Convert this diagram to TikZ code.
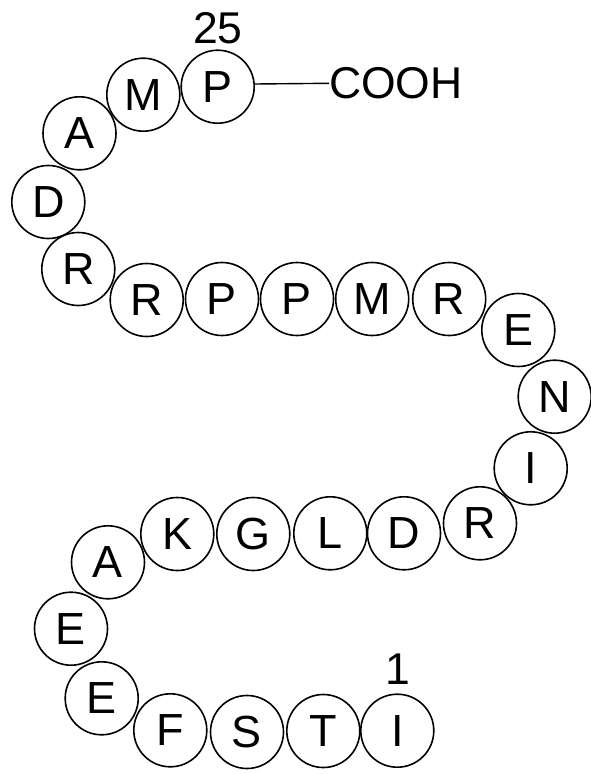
\documentclass[tikz,border=0pt]{standalone}
\usepackage{fontspec}
\setmainfont{Liberation Sans}
\begin{document}
\begin{tikzpicture}[x=1pt,y=-1pt,
  aa/.style={circle,draw,line width=1.6pt,minimum size=73pt,inner sep=0pt,font=\fontsize{45}{45}\selectfont},
  lbl/.style={inner sep=0pt,font=\fontsize{44.5}{44.5}\selectfont}]
\useasboundingbox (0,0) rectangle (591,774);
\node[aa] (a1) at (397.3,730.7) {I};
\node[aa] (a2) at (323.3,731) {T};
\node[aa] (a3) at (247,732) {S};
\node[aa] (a4) at (170.3,730.3) {F};
\node[aa] (a5) at (101.7,698.3) {E};
\node[aa] (a6) at (71,628.7) {E};
\node[aa] (a7) at (108,562.3) {A};
\node[aa] (a8) at (177.3,534) {K};
\node[aa] (a9) at (253.3,534) {G};
\node[aa] (a10) at (330.3,533.3) {L};
\node[aa] (a11) at (404,533.3) {D};
\node[aa] (a12) at (480,523.3) {R};
\node[aa] (a13) at (530.7,468.3) {I};
\node[aa] (a14) at (554.7,396.7) {N};
\node[aa] (a15) at (518.3,330) {E};
\node[aa] (a16) at (449.2,299) {R};
\node[aa] (a17) at (372.2,299) {M};
\node[aa] (a18) at (297,299) {P};
\node[aa] (a19) at (222,299) {P};
\node[aa] (a20) at (146.7,300) {R};
\node[aa] (a21) at (78.3,269) {R};
\node[aa] (a22) at (48.3,202) {D};
\node[aa] (a23) at (79.5,133.3) {A};
\node[aa] (a24) at (143.3,94.7) {M};
\node[aa] (a25) at (217.7,86.7) {P};
\node[lbl] (n25) at (218,28.3) {25};
\node[lbl] (n1) at (398,669) {1};
\node[lbl,anchor=west] (cooh) at (329,83.3) {COOH};
\draw[line width=1.4pt] (a25.east |- 0,84) -- (cooh.west);
\end{tikzpicture}
\end{document}
